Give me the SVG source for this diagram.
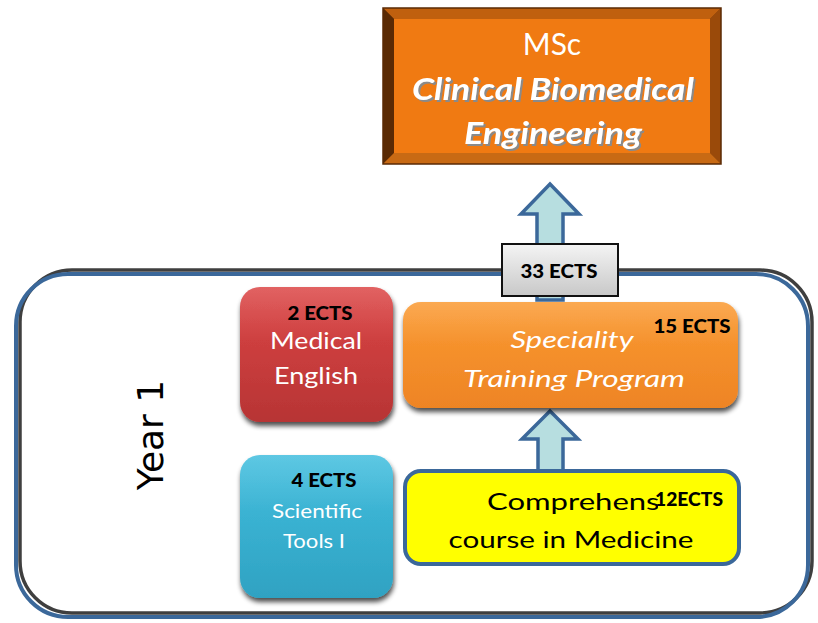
<svg xmlns="http://www.w3.org/2000/svg" width="818" height="623" viewBox="0 0 818 623">
  <defs>
    <linearGradient id="gRed" x1="0" y1="0" x2="0" y2="1">
      <stop offset="0" stop-color="#DC4646"/>
      <stop offset="1" stop-color="#B73434"/>
    </linearGradient>
    <linearGradient id="gOrange" x1="0" y1="0" x2="0" y2="1">
      <stop offset="0" stop-color="#FA9A32"/>
      <stop offset="1" stop-color="#EE8424"/>
    </linearGradient>
    <linearGradient id="gCyan" x1="0" y1="0" x2="0" y2="1">
      <stop offset="0" stop-color="#42BEDE"/>
      <stop offset="1" stop-color="#2FA2C2"/>
    </linearGradient>
    <linearGradient id="gGray" x1="0" y1="0" x2="0" y2="1">
      <stop offset="0" stop-color="#F4F4F4"/>
      <stop offset="1" stop-color="#C8C8C8"/>
    </linearGradient>
    <linearGradient id="gGloss" x1="0" y1="0" x2="0" y2="1">
      <stop offset="0" stop-color="#FFFFFF" stop-opacity="0.15"/>
      <stop offset="0.4" stop-color="#FFFFFF" stop-opacity="0"/>
    </linearGradient>
    <filter id="shadow" x="-10%" y="-10%" width="125%" height="130%">
      <feGaussianBlur in="SourceAlpha" stdDeviation="2.5"/>
      <feOffset dx="1" dy="4" result="b"/>
      <feComponentTransfer><feFuncA type="linear" slope="0.7"/></feComponentTransfer>
      <feMerge><feMergeNode/><feMergeNode in="SourceGraphic"/></feMerge>
    </filter>
    <filter id="txtShadow" x="-5%" y="-20%" width="110%" height="150%">
      <feOffset in="SourceAlpha" dx="1.5" dy="1.5" result="o"/>
      <feFlood flood-color="#8A8A8A"/>
      <feComposite in2="o" operator="in"/>
      <feMerge><feMergeNode/><feMergeNode in="SourceGraphic"/></feMerge>
    </filter>
  </defs>
  <style>
    .body { font-family: Lato, "Open Sans", "Liberation Sans", sans-serif; }
    .white { fill: #FFFFFF; }
    .ects { font-family: Lato, "Liberation Sans", sans-serif; font-weight: 900; font-size: 19px; fill: #000000; }
    .arrow { fill: #B7DEE0; stroke: #3B689A; stroke-width: 3.5; stroke-linejoin: miter; }
  </style>

  <rect width="818" height="623" fill="#FFFFFF"/>

  <!-- Year 1 frame -->
  <g id="year1">
    <rect x="20" y="270" width="792" height="343" rx="52" fill="none" stroke="#3F3F3F" stroke-width="3.5"/>
    <rect x="16" y="274" width="792" height="343" rx="52" fill="none" stroke="#3B689A" stroke-width="4"/>
    <text x="150" y="435" transform="rotate(-90 150 435)" text-anchor="middle" dominant-baseline="central" font-family="'DejaVu Sans', sans-serif" font-size="36" fill="#000000">Year 1</text>
  </g>

  <!-- connectors -->
  <g id="connectors">
    <path class="arrow" d="M537,300 L537,214 L521,214 L550,184 L579,214 L563,214 L563,300 Z"/>
    <path class="arrow" d="M538,471 L538,439 L522,439 L550,411 L578,439 L563,439 L563,471 Z"/>
  </g>

  <!-- MSc target -->
  <g id="msc">
    <rect x="383" y="8" width="338" height="156" fill="#7A3A08"/>
    <polygon points="383,8 721,8 710,19 394,19" fill="#C0600E"/>
    <polygon points="383,8 394,19 394,153 383,164" fill="#5A2A04"/>
    <polygon points="721,8 721,164 710,153 710,19" fill="#9A4A0A"/>
    <polygon points="383,164 721,164 710,153 394,153" fill="#C86A14"/>
    <rect x="394" y="19" width="316" height="134" fill="#F07A12"/>
    <rect x="383" y="8" width="338" height="156" fill="none" stroke="#5A2A04" stroke-width="1.5"/>
    <text class="body white" x="552" y="55" text-anchor="middle" font-size="30">MSc</text>
    <g filter="url(#txtShadow)">
      <text class="body white" x="553" y="100" text-anchor="middle" font-size="30" font-weight="bold" font-style="italic" textLength="282" lengthAdjust="spacingAndGlyphs">Clinical Biomedical</text>
      <text class="body white" x="553" y="144" text-anchor="middle" font-size="30" font-weight="bold" font-style="italic" textLength="178" lengthAdjust="spacingAndGlyphs">Engineering</text>
    </g>
  </g>

  <!-- total credits label on the arrow -->
  <g id="total">
    <rect x="502" y="244" width="116" height="52" fill="url(#gGray)" stroke="#111111" stroke-width="2"/>
    <text class="ects" x="559" y="278" text-anchor="middle" textLength="77" lengthAdjust="spacingAndGlyphs">33 ECTS</text>
  </g>

  <!-- Medical English -->
  <g id="medical-english">
    <rect x="240" y="287" width="153" height="135" rx="20" fill="url(#gRed)" filter="url(#shadow)"/>
    <rect x="240" y="287" width="153" height="135" rx="20" fill="url(#gGloss)"/>
    <text class="ects" x="320" y="320" text-anchor="middle" textLength="65" lengthAdjust="spacingAndGlyphs">2 ECTS</text>
    <text class="body white" x="316" y="349" text-anchor="middle" font-size="24" textLength="92" lengthAdjust="spacingAndGlyphs">Medical</text>
    <text class="body white" x="316" y="384" text-anchor="middle" font-size="24" textLength="84" lengthAdjust="spacingAndGlyphs">English</text>
  </g>

  <!-- Speciality Training Program -->
  <g id="speciality">
    <rect x="403" y="302" width="335" height="106" rx="18" fill="url(#gOrange)" filter="url(#shadow)"/>
    <rect x="403" y="302" width="335" height="106" rx="18" fill="url(#gGloss)"/>
    <text class="body white" x="572" y="348" text-anchor="middle" font-size="24" font-style="italic" textLength="123" lengthAdjust="spacingAndGlyphs">Speciality</text>
    <text class="body white" x="574" y="387" text-anchor="middle" font-size="24" font-style="italic" textLength="222" lengthAdjust="spacingAndGlyphs">Training Program</text>
    <text class="ects" x="692" y="333" text-anchor="middle" textLength="77" lengthAdjust="spacingAndGlyphs">15 ECTS</text>
  </g>

  <!-- Scientific Tools I -->
  <g id="scientific-tools">
    <rect x="240" y="455" width="153" height="143" rx="20" fill="url(#gCyan)" filter="url(#shadow)"/>
    <rect x="240" y="455" width="153" height="143" rx="20" fill="url(#gGloss)"/>
    <text class="ects" x="324" y="487" text-anchor="middle" textLength="65" lengthAdjust="spacingAndGlyphs">4 ECTS</text>
    <text class="body white" x="317" y="518" text-anchor="middle" font-size="20" textLength="90" lengthAdjust="spacingAndGlyphs">Scientific</text>
    <text class="body white" x="314" y="548" text-anchor="middle" font-size="20" textLength="62" lengthAdjust="spacingAndGlyphs">Tools I</text>
  </g>

  <!-- Comprehensive course in Medicine -->
  <g id="comprehensive">
    <rect x="405" y="471" width="334" height="93" rx="16" fill="#FFFF00" stroke="#3B689A" stroke-width="4"/>
    <text class="body" x="487" y="510" font-size="24" fill="#000000" textLength="212" lengthAdjust="spacingAndGlyphs">Comprehensive</text>
    <rect x="658" y="484" width="68" height="28" fill="#FFFF00"/>
    <text class="ects" x="689" y="506" text-anchor="middle" textLength="68" lengthAdjust="spacingAndGlyphs">12ECTS</text>
    <text class="body" x="571" y="548" text-anchor="middle" font-size="24" fill="#000000" textLength="245" lengthAdjust="spacingAndGlyphs">course in Medicine</text>
  </g>
</svg>
